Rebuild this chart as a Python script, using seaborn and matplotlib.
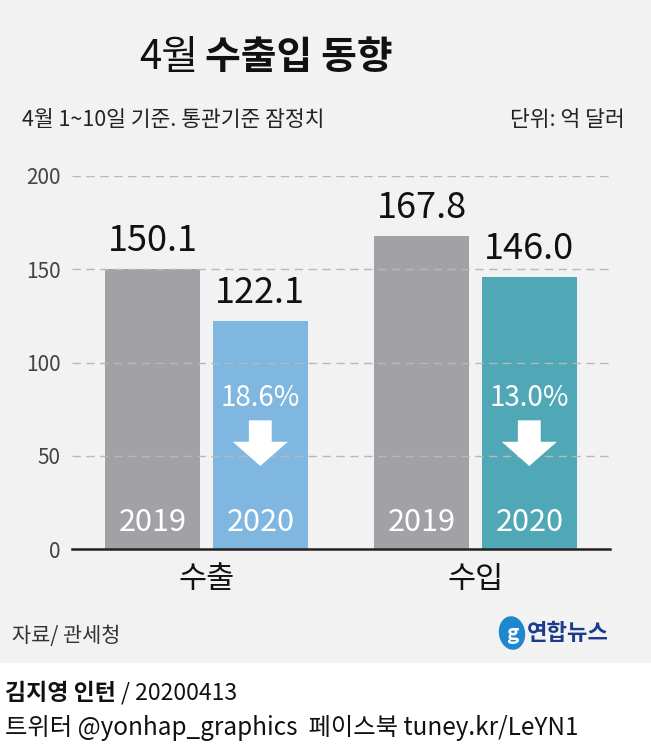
import matplotlib
matplotlib.use("Agg")
import matplotlib.pyplot as plt
import matplotlib.patches as mpatches
import seaborn as sns
import pandas as pd

# data (억 달러, 4월 1~10일)
categories = ["수출", "수입"]
years = ["2019", "2020"]
values_2019 = [150.1, 167.8]
values_2020 = [122.1, 146.0]
pct_change = ["18.6%", "13.0%"]

df = pd.DataFrame({
    "cat": categories * 2,
    "year": [years[0]] * 2 + [years[1]] * 2,
    "value": values_2019 + values_2020,
})

sns.set_theme(style="white")
plt.rcParams["font.family"] = ["Noto Sans CJK KR", "DejaVu Sans"]

BG = "#f2f2f2"
GRAY = "#a2a2a6"
BLUE = "#7fb7e0"
TEAL = "#50a8b6"

fig = plt.figure(figsize=(6.51, 7.56), dpi=100)
fig.patch.set_facecolor("white")
# gray panel on top, white footer below
fig.patches.append(mpatches.Rectangle((0, 93 / 756), 1, 1 - 93 / 756, transform=fig.transFigure,
                                      facecolor=BG, edgecolor="none", zorder=-10))

ax = fig.add_axes([72 / 651, 1 - 549 / 756, 538 / 651, 373 / 756])
ax.set_facecolor("none")
ax.set_zorder(1)

sns.barplot(data=df, x="cat", y="value", hue="year", order=categories, hue_order=years,
            palette=[GRAY, BLUE], saturation=1, width=0.8, gap=0.12, ax=ax,
            legend=False, zorder=2)
ax.containers[1][1].set_facecolor(TEAL)
for bar in ax.patches:
    bar.set_edgecolor("none")

ax.set_xlim(-0.5, 1.5)
ax.set_ylim(0, 200)
ax.set_yticks([0, 50, 100, 150, 200])
ax.tick_params(axis="y", length=0, labelsize=15, labelcolor="#444444", pad=8)
ax.tick_params(axis="x", length=0, labelsize=22, labelcolor="#111111", pad=11)
ax.set_xlabel("")
ax.set_ylabel("")
for s in ["top", "right", "left"]:
    ax.spines[s].set_visible(False)
ax.spines["bottom"].set_color("#222222")
ax.spines["bottom"].set_linewidth(1.8)
ax.spines["bottom"].set_zorder(5)
for yv in [50, 100, 150, 200]:
    ax.axhline(yv, color="#b8b8b8", lw=1, ls=(0, (6, 4)), zorder=3)

# labels on bars
for cont, yr in zip(ax.containers, years):
    for bar in cont:
        cx = bar.get_x() + bar.get_width() / 2
        h = bar.get_height()
        ax.text(cx, h + 15, f"{h:.1f}", ha="center", va="center", fontsize=26, color="#111111")
        ax.text(cx, 14, yr, ha="center", va="center", fontsize=22, color="white", zorder=4)

# percent drop + arrow in 2020 bars
for bar, pct in zip(ax.containers[1], pct_change):
    cx = bar.get_x() + bar.get_width() / 2
    ax.text(cx, 81, pct, ha="center", va="center", fontsize=20, color="white", zorder=4)
    ax.add_patch(mpatches.FancyArrow(cx, 69, 0, -24.5, width=0.085, head_width=0.205,
                                     head_length=13, length_includes_head=True,
                                     color="white", lw=0, zorder=4))

# title and subtitle
fig.text(198 / 651, 1 - 57 / 756, "4월", ha="right", va="center", fontsize=29, color="#111111")
fig.text(205 / 651, 1 - 57 / 756, "수출입 동향", ha="left", va="center", fontsize=28,
         fontweight="bold", color="#111111")
fig.text(22 / 651, 1 - 120 / 756, "4월 1~10일 기준. 통관기준 잠정치", ha="left", va="center",
         fontsize=15.5, color="#222222")
fig.text(625 / 651, 1 - 120 / 756, "단위: 억 달러", ha="right", va="center",
         fontsize=15.5, color="#222222")

# source and logo
fig.text(12 / 651, 1 - 636 / 756, "자료/ 관세청", ha="left", va="center", fontsize=15,
         color="#333333", style="italic")
fig.patches.append(mpatches.Ellipse((512 / 651, 1 - 633 / 756), 26 / 651, 34 / 756,
                                    angle=20, transform=fig.transFigure,
                                    facecolor="#1e88cf", edgecolor="none", zorder=3))
fig.text(512 / 651, 1 - 633 / 756, "g", ha="center", va="center", fontsize=15,
         color="white", style="italic", fontweight="bold", zorder=4)
fig.text(527 / 651, 1 - 633 / 756, "연합뉴스", ha="left", va="center", fontsize=16,
         fontweight="bold", color="#1b3c8c")

# footer
fig.text(5 / 651, 1 - 693 / 756, "김지영 인턴", ha="left", va="center", fontsize=16.5,
         fontweight="bold", color="#111111")
fig.text(121 / 651, 1 - 693 / 756, "/ 20200413", ha="left", va="center", fontsize=16.5,
         color="#111111")
fig.text(5 / 651, 1 - 728 / 756, "트위터 @yonhap_graphics  페이스북 tuney.kr/LeYN1", ha="left",
         va="center", fontsize=17.5, color="#111111")

fig.savefig("out.png", dpi=100, facecolor=fig.get_facecolor())
